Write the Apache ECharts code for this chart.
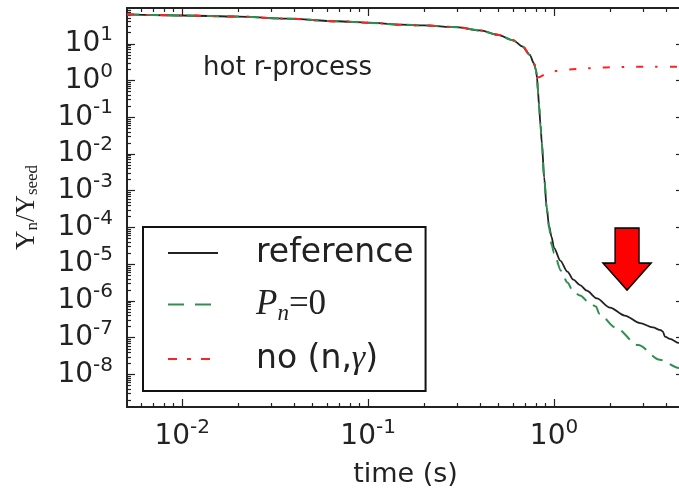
<!DOCTYPE html>
<html><head><meta charset="utf-8">
<script src="https://cdn.jsdelivr.net/npm/echarts@6/dist/echarts.min.js"></script>
<style>html,body{margin:0;padding:0;background:#fff}#c{width:679px;height:493px}</style>
</head><body><div id="c"></div>
<script>
// ---- data ----
const commonTime = [0.00505, 0.007, 0.01, 0.02, 0.037, 0.068, 0.1, 0.15, 0.2, 0.3, 0.4, 0.5, 0.6, 0.68, 0.74, 0.78, 0.80, 0.81];
const commonY    = [63, 60.5, 58.8, 55, 48, 41, 37.5, 33, 31.5, 28.2, 23, 17.5, 12.5, 8.3, 5.0, 2.9, 1.9, 1.2];
const steepTime  = [0.82, 0.83, 0.845, 0.86, 0.885, 0.913];
const steepY     = [0.5, 0.22, 0.063, 0.0195, 2.3e-3, 3.5e-4];
const refTailTime = [0.94, 0.97, 1.0, 1.08, 1.18, 1.27, 1.38, 1.5, 1.7, 2.0, 2.4, 2.9, 3.4, 3.75, 3.85, 3.95, 4.2, 4.7, 5.0];
const refTailY    = [1.1e-4, 5.5e-5, 2.8e-5, 1.26e-5, 6.3e-6, 3.8e-6, 2.7e-6, 1.9e-6, 1.17e-6, 6.6e-7, 4.0e-7, 2.5e-7, 1.9e-7, 1.6e-7, 1.45e-7, 1.07e-7, 9.3e-8, 7.2e-8, 6.7e-8];
const pn0TailTime = [0.94, 0.972, 1.0, 1.09, 1.18, 1.27, 1.38, 1.55, 1.68, 1.75, 2.14, 2.83, 3.71, 4.7, 5.0];
const pn0TailY    = [1.0e-4, 3.3e-5, 2.0e-5, 6.6e-6, 3.2e-6, 1.78e-6, 1.41e-6, 8.9e-7, 7.1e-7, 4.5e-7, 1.9e-7, 6.3e-8, 2.5e-8, 1.5e-8, 1.3e-8];
const noNgTailTime = [0.97, 1.19, 1.47, 1.81, 2.2, 2.72, 3.4, 4.7, 5.0];
const noNgTailY    = [1.77, 2.0, 2.14, 2.24, 2.32, 2.37, 2.38, 2.38, 2.38];

const xMajorTicks = [0.01, 0.1, 1];
const yMajorTicks = [1e-8, 1e-7, 1e-6, 1e-5, 1e-4, 1e-3, 1e-2, 1e-1, 1, 10];
const xRange = [0.00505, 5];
const yRange = [1.3e-9, 94];
const seriesNames = ['reference', 'Pn0', 'noNg'];
const arrowAt = [2.47, 1.37e-5];

function pairs(ts, ys) { return ts.map((t, i) => [t, ys[i]]); }
function minorTicks(lo, hi) {
  const out = [];
  for (let e = -10; e <= 2; e++) for (let k = 2; k <= 9; k++) {
    const v = +(k * Math.pow(10, e)).toPrecision(6);
    if (v > lo && v < hi) out.push(v);
  }
  return out;
}
const refData  = pairs(commonTime.concat(steepTime, refTailTime), commonY.concat(steepY, refTailY));
const pn0Data  = pairs(commonTime.concat(steepTime, pn0TailTime), commonY.concat(steepY, pn0TailY));
const noNgData = pairs(commonTime.concat(noNgTailTime), commonY.concat(noNgTailY));
// y labels split over two overlaid axes (alternate decades) so none is hidden as overlapping
const yLabelsA = yMajorTicks.filter((v, i) => i % 2 === 0);
const yLabelsB = yMajorTicks.filter((v, i) => i % 2 === 1);

const TXT = '#222';
const tickLine = { color: '#222', width: 1.2 };
const expFmt = v => { const e = Math.round(Math.log10(v)); return '{b|10}{s|' + e + '}'; };
const labelRich = {
  b: { fontFamily: 'DejaVu Sans', fontSize: 28, color: TXT, lineHeight: 26 },
  s: { fontFamily: 'DejaVu Sans', fontSize: 20, color: TXT, lineHeight: 8, padding: [0, 0, 18, 0] }
};
function xAx(pos, major) {
  return {
    type: 'log', position: pos, min: xRange[0], max: xRange[1], gridIndex: 0,
    axisLine: { show: false }, splitLine: { show: false },
    axisTick: { show: true, inside: true, length: major ? 8 : 4, lineStyle: tickLine,
      customValues: major ? xMajorTicks : minorTicks(xRange[0], xRange[1]) },
    axisLabel: { show: major && pos === 'bottom', customValues: xMajorTicks, formatter: expFmt, margin: 17, rich: labelRich,
      showMinLabel: true, showMaxLabel: true, hideOverlap: false },
    name: (major && pos === 'bottom') ? 'time (s)' : '', nameLocation: 'middle', nameGap: 54,
    nameTextStyle: { fontFamily: 'DejaVu Sans', fontSize: 27, color: TXT }
  };
}
function yAx(pos, major) {
  return {
    type: 'log', position: pos, min: yRange[0], max: yRange[1], gridIndex: 0,
    axisLine: { show: false }, splitLine: { show: false },
    axisTick: { show: true, inside: true, length: major ? 8 : 4, lineStyle: tickLine,
      customValues: major ? yMajorTicks : minorTicks(yRange[0], yRange[1]) },
    axisLabel: { show: pos === 'left', customValues: major ? yLabelsA : yLabelsB, formatter: expFmt, margin: 14, rich: labelRich,
      showMinLabel: true, showMaxLabel: true, hideOverlap: false },
    name: (major && pos === 'left') ? '{y|Y}{sb|n}{y|/Y}{sb|seed}' : '', nameLocation: 'middle', nameGap: 86, nameRotate: 90,
    nameTextStyle: { rich: {
      y: { fontFamily: 'Liberation Serif', fontSize: 27, color: TXT },
      sb: { fontFamily: 'Liberation Serif', fontSize: 17, color: TXT, padding: [12, 0, 0, 0] }
    } }
  };
}

const legendLabels = {
  reference: 'reference',
  Pn0: '{i|P}{sb|n}{m|=0}',
  noNg: 'no (n,{g|γ})'
};

const chart = echarts.init(document.getElementById('c'), null, { renderer: 'canvas' });
chart.setOption({
  animation: false,
  backgroundColor: '#fff',
  grid: { left: 127, top: 8, right: -5, bottom: 86, show: true, borderColor: '#222', borderWidth: 2, outerBoundsMode: 'none', containLabel: false },
  title: { text: 'hot r-process', left: 198, top: 50, textStyle: { fontFamily: 'DejaVu Sans', fontSize: 26, fontWeight: 'normal', color: TXT } },
  xAxis: [xAx('bottom', true), xAx('bottom', false), xAx('top', true), xAx('top', false)],
  yAxis: [yAx('left', true), yAx('left', false), yAx('right', true), yAx('right', false)],
  legend: {
    orient: 'vertical', left: 143, top: 227,
    padding: [9, 12, 15, 24], borderColor: '#111', borderWidth: 2, backgroundColor: '#fff',
    itemWidth: 50, itemHeight: 14, itemGap: 17,
    itemStyle: { opacity: 0 },
    data: [
      { name: 'reference' },
      { name: 'Pn0', lineStyle: { type: [16, 11] } },
      { name: 'noNg', lineStyle: { type: [9, 10, 4, 10] } }
    ],
    formatter: n => legendLabels[n],
    textStyle: { fontFamily: 'DejaVu Sans', fontSize: 33, color: TXT, lineHeight: 34, padding: [0, 0, 0, 33],
      rich: {
        i: { fontFamily: 'Liberation Serif', fontStyle: 'italic', fontSize: 35, color: TXT },
        sb: { fontFamily: 'Liberation Serif', fontStyle: 'italic', fontSize: 23, color: TXT, padding: [18, 0, 0, 0] },
        m: { fontFamily: 'Liberation Serif', fontSize: 35, color: TXT },
        g: { fontFamily: 'Liberation Serif', fontStyle: 'italic', fontSize: 34, color: TXT }
      } }
  },
  series: [
    { name: seriesNames[0], type: 'line', data: refData, symbol: 'none', smooth: 0.3, smoothMonotone: 'x',
      lineStyle: { color: '#222', width: 1.8 }, itemStyle: { color: '#222' }, z: 3,
      markPoint: { silent: true, symbol: 'path://M12,0L36,0L36,35L48,35L24,62L0,35L12,35Z', symbolSize: [48, 62],
        data: [{ coord: arrowAt }], label: { show: false },
        itemStyle: { color: '#ff0000', borderColor: '#000', borderWidth: 1.5 } } },
    { name: seriesNames[1], type: 'line', data: pn0Data, symbol: 'none', smooth: 0.3, smoothMonotone: 'x',
      lineStyle: { color: '#2e8f50', width: 2, type: [12, 8] }, itemStyle: { color: '#2e8f50' }, z: 4 },
    { name: seriesNames[2], type: 'line', data: noNgData, symbol: 'none', smooth: 0.3, smoothMonotone: 'x',
      lineStyle: { color: '#ff2222', width: 2, type: [7, 12, 2.5, 12] }, itemStyle: { color: '#ff2222' }, z: 5 }
  ]
});
</script></body></html>
